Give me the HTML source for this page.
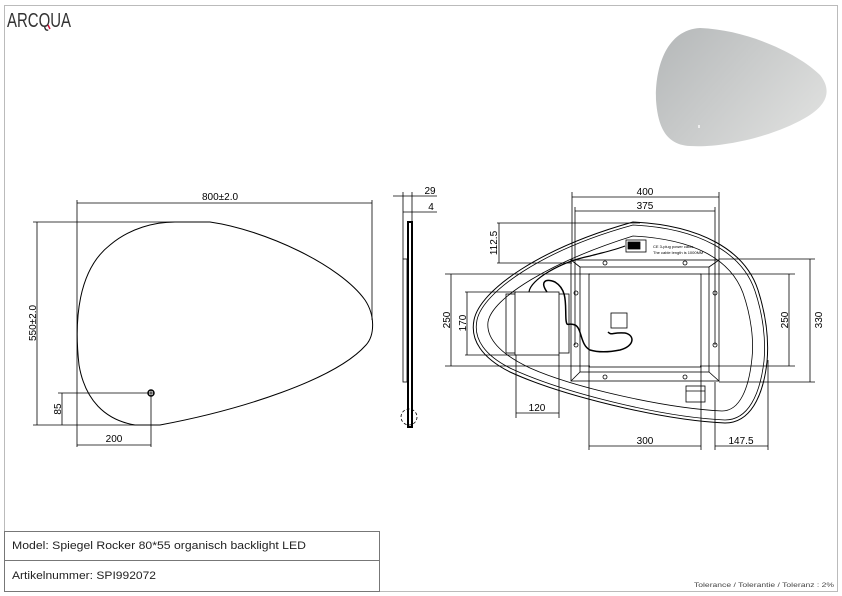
<!DOCTYPE html>
<html><head><meta charset="utf-8"><style>
html,body{margin:0;padding:0;background:#fff;}
svg{display:block;font-family:"Liberation Sans",Arial,sans-serif;}
</style></head><body>
<svg width="842" height="596" viewBox="0 0 842 596" xmlns="http://www.w3.org/2000/svg">
<defs>
<linearGradient id="g" x1="0" y1="0" x2="1" y2="0.6">
<stop offset="0" stop-color="#b4b7b8"/><stop offset="1" stop-color="#dcdddc"/>
</linearGradient>
</defs>
<rect x="4.5" y="5.5" width="833" height="586" fill="none" stroke="#bbb" stroke-width="1"/>
<text x="7" y="27" font-size="20" fill="#333" textLength="64" lengthAdjust="spacingAndGlyphs">ARCQUA</text>
<path d="M48,25 l2,4" stroke="#d0103a" stroke-width="1.5"/>

<path d="M700,28 C750,30 800,55 820,75 C832,90 828,105 805,118 C770,138 720,148 690,146 C668,145 658,130 656,100 C655,70 665,30 700,28 Z" fill="url(#g)"/>
<rect x="698" y="125" width="2" height="3" fill="#eee"/>

<g stroke="#000" fill="none" stroke-width="0.8">
<path d="M175,222 L210,222 C265,230 340,265 365,300 C375,315 375,335 366,345 C335,380 240,410 160,425 L135,425 C105,420 85,400 79,365 C74,320 78,270 110,245 C130,228 155,222 175,222 Z" stroke-width="1"/>
<line x1="77" y1="200" x2="77" y2="447"/>
<line x1="372" y1="200" x2="372" y2="320"/>
<line x1="77" y1="203" x2="372" y2="203"/>
<line x1="33" y1="222" x2="175" y2="222"/>
<line x1="33" y1="425" x2="150" y2="425"/>
<line x1="37" y1="222" x2="37" y2="425"/>
<line x1="58" y1="393" x2="148" y2="393"/>
<line x1="62" y1="393" x2="62" y2="425"/>
<line x1="151" y1="396" x2="151" y2="447"/>
<line x1="77" y1="445" x2="151" y2="445"/>
<circle cx="151" cy="393" r="3" stroke-width="1.5"/>
<line x1="148" y1="393" x2="154" y2="393"/><line x1="151" y1="390" x2="151" y2="396"/>

<line x1="393" y1="196" x2="437" y2="196"/>
<line x1="403" y1="212" x2="437" y2="212"/>
<line x1="403" y1="192" x2="403" y2="259"/>
<line x1="412" y1="192" x2="412" y2="222"/>
<rect x="408" y="222" width="4" height="205" stroke-width="2"/>
<rect x="403" y="259" width="4" height="123"/>
<circle cx="409" cy="417" r="8" stroke-dasharray="3,2"/>

<path d="M633,222 C700,225 745,250 758,290 C766,315 769,340 767,362 C763,397 750,423 725,423 C660,420 560,395 510,372 C482,358 470,340 474,320 C480,290 540,248 633,222 Z" stroke-width="1"/>
<path d="M633,225 C698,228 742,252 755,291 C763,315 766,340 764,361 C760,395 748,420 725,420 C660,417 562,392 512,369 C485,356 473,339 477,320 C483,292 542,250 633,225 Z"/>
<path d="M633,236 C692,239 730,258 743,293 C751,316 754,340 752,358 C749,388 740,411 722,411 C665,408 575,388 530,368 C500,354 486,338 488,322 C492,298 550,262 633,236 Z"/>
<rect x="571" y="260" width="148" height="121"/>
<rect x="580" y="267" width="129" height="105"/>
<rect x="589" y="274" width="112" height="93"/>
<path d="M571,260 L580,267 M719,260 L709,267 M571,381 L580,372 M719,381 L709,372"/>
<rect x="506" y="294" width="63" height="59"/>
<rect x="515" y="292" width="44" height="63" fill="#fff"/>
<rect x="611" y="313" width="16" height="15"/>
<rect x="686" y="386" width="19" height="16"/>
<line x1="686" y1="391" x2="705" y2="391"/>
<circle cx="576" cy="293" r="2"/><circle cx="576" cy="345" r="2"/>
<circle cx="715" cy="293" r="2"/><circle cx="715" cy="345" r="2"/>
<circle cx="605" cy="263" r="2"/><circle cx="685" cy="263" r="2"/>
<circle cx="605" cy="377" r="2"/><circle cx="685" cy="377" r="2"/>
<path d="M529,292 C530,280 560,262 590,256 C605,252 615,250 625,246" stroke-width="1.2"/>
<path d="M547,292 C540,282 545,278 555,282 C568,290 565,305 566,320 C567,328 568,322 575,325 C582,328 580,345 590,350 C600,353 610,352 620,350 C635,346 635,335 625,333 C612,332 612,336 608,332" stroke-width="1.5"/>
<rect x="626" y="240" width="20" height="12" fill="#fff"/>
<rect x="628" y="242" width="12" height="7" fill="#000"/>
<line x1="572" y1="192" x2="572" y2="260"/><line x1="719" y1="192" x2="719" y2="260"/>
<line x1="572" y1="197" x2="719" y2="197"/>
<line x1="575" y1="207" x2="575" y2="345"/><line x1="715" y1="207" x2="715" y2="345"/>
<line x1="575" y1="211" x2="715" y2="211"/>
<line x1="497" y1="223" x2="640" y2="223"/><line x1="497" y1="263" x2="572" y2="263"/>
<line x1="499" y1="223" x2="499" y2="263"/>
<line x1="445" y1="274" x2="590" y2="274"/><line x1="445" y1="366" x2="590" y2="366"/>
<line x1="451" y1="274" x2="451" y2="366"/>
<line x1="465" y1="292" x2="516" y2="292"/><line x1="465" y1="355" x2="516" y2="355"/>
<line x1="467" y1="292" x2="467" y2="355"/>
<line x1="700" y1="274" x2="795" y2="274"/><line x1="700" y1="366" x2="795" y2="366"/>
<line x1="789" y1="274" x2="789" y2="366"/>
<line x1="719" y1="259" x2="815" y2="259"/><line x1="719" y1="382" x2="815" y2="382"/>
<line x1="810" y1="259" x2="810" y2="382"/>
<line x1="516" y1="355" x2="516" y2="418"/><line x1="559" y1="355" x2="559" y2="418"/>
<line x1="516" y1="413" x2="559" y2="413"/>
<line x1="589" y1="366" x2="589" y2="450"/><line x1="701" y1="366" x2="701" y2="450"/>
<line x1="589" y1="446" x2="701" y2="446"/>
<line x1="715" y1="382" x2="715" y2="450"/><line x1="768" y1="360" x2="768" y2="450"/>
<line x1="715" y1="446" x2="768" y2="446"/>
</g>

<g font-size="10" fill="#000" text-anchor="middle">
<text x="220" y="200">800±2.0</text>
<text x="114" y="442">200</text>
<text transform="translate(36,323) rotate(-90)">550±2.0</text>
<text transform="translate(61,409) rotate(-90)">85</text>
<text x="430" y="194">29</text>
<text x="431" y="210">4</text>
<text x="645" y="195">400</text>
<text x="645" y="209">375</text>
<text transform="translate(497,243) rotate(-90)">112.5</text>
<text transform="translate(450,320) rotate(-90)">250</text>
<text transform="translate(466,323) rotate(-90)">170</text>
<text transform="translate(788,320) rotate(-90)">250</text>
<text transform="translate(822,320) rotate(-90)">330</text>
<text x="537" y="411">120</text>
<text x="645" y="444">300</text>
<text x="741" y="444">147.5</text>
</g>
<text x="653" y="248" font-size="4" fill="#000">CE 3-plug power cable</text>
<text x="653" y="254" font-size="4" fill="#000">The cable length is 1000MM</text>

<rect x="4.5" y="531.5" width="375" height="29" fill="none" stroke="#777"/>
<rect x="4.5" y="560.5" width="375" height="31" fill="none" stroke="#777"/>
<text x="12" y="549" font-size="11" fill="#222" textLength="294" lengthAdjust="spacingAndGlyphs">Model: Spiegel Rocker 80*55 organisch backlight  LED</text>
<text x="12" y="579" font-size="11" fill="#222" textLength="144" lengthAdjust="spacingAndGlyphs">Artikelnummer: SPI992072</text>
<text x="694" y="587" font-size="6.5" fill="#444" textLength="140" lengthAdjust="spacingAndGlyphs">Tolerance / Tolerantie / Toleranz : 2%</text>
</svg>
</body></html>
